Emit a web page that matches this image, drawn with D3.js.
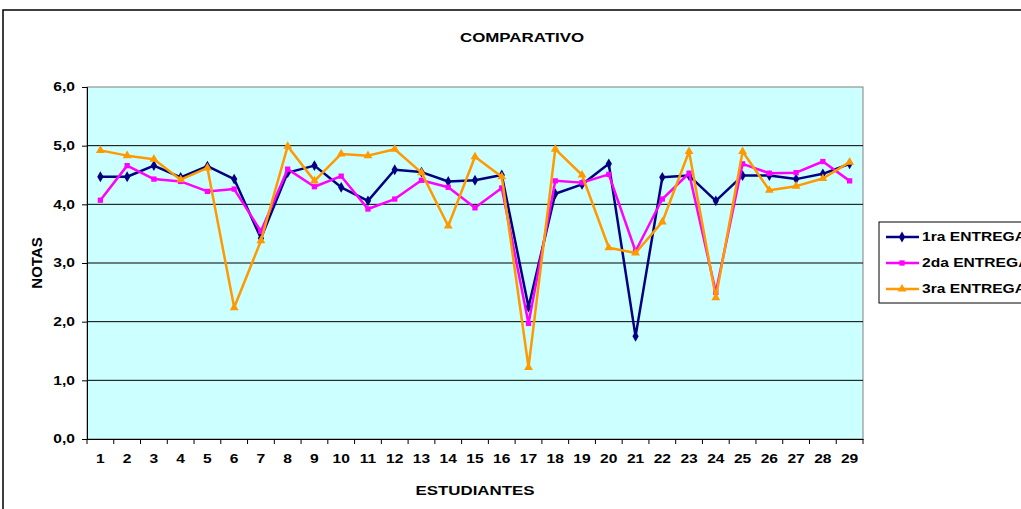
<!DOCTYPE html>
<html>
<head>
<meta charset="utf-8">
<script src="https://cdn.jsdelivr.net/npm/d3@7"></script>
<style>
  body { margin: 0; background: #fff; overflow: hidden; }
  text { font-family: "Liberation Sans", Arial, sans-serif; font-weight: bold; fill: #000; }
</style>
</head>
<body>
<svg id="canvas" width="1021" height="509"></svg>
<script>
/************* Data **************/
var estudiantes = d3.range(1, 30);
var entrega1 = [4.47, 4.47, 4.66, 4.46, 4.65, 4.43, 3.42, 4.54, 4.66, 4.29,
                4.06, 4.59, 4.55, 4.39, 4.41, 4.50, 2.25, 4.18, 4.34, 4.69,
                1.75, 4.46, 4.49, 4.06, 4.49, 4.49, 4.43, 4.52, 4.69];
var entrega2 = [4.07, 4.66, 4.43, 4.39, 4.22, 4.26, 3.54, 4.60, 4.30, 4.48,
                3.92, 4.09, 4.41, 4.29, 3.94, 4.28, 1.97, 4.40, 4.37, 4.51,
                3.20, 4.09, 4.53, 2.50, 4.69, 4.53, 4.54, 4.73, 4.40];
var entrega3 = [4.92, 4.83, 4.77, 4.42, 4.62, 2.24, 3.38, 4.99, 4.40, 4.86,
                4.83, 4.94, 4.54, 3.63, 4.81, 4.47, 1.22, 4.94, 4.50, 3.26,
                3.17, 3.70, 4.90, 2.41, 4.90, 4.24, 4.31, 4.44, 4.72];
var yTicks = [0, 1, 2, 3, 4, 5, 6];

var series = [
  {name: "1ra ENTREGA", values: entrega1, color: "#000080", symbol: d3.symbolDiamond, size: 34},
  {name: "2da ENTREGA", values: entrega2, color: "#FF00FF", symbol: d3.symbolSquare, size: 28},
  {name: "3ra ENTREGA", values: entrega3, color: "#FF9900", symbol: d3.symbolTriangle, size: 34}
];

// the original picture is stretched sideways, so is its text
var stretch = 1.3;

/********** Initialisation *********/
var svg = d3.select("#canvas");
var plot = {left: 87, right: 863, top: 87, bottom: 439};

var x = d3.scaleBand()
    .domain(estudiantes)
    .range([plot.left, plot.right]);

var y = d3.scaleLinear()
    .domain([0, 6])
    .range([plot.bottom, plot.top]);

var fmt = function(d) { return d3.format(".1f")(d).replace(".", ","); };

function label(px, py, str, size, anchor) {
  return svg.append("g")
      .attr("transform", "translate(" + px + "," + py + ") scale(" + stretch + ",1)")
    .append("text")
      .attr("text-anchor", anchor || "middle")
      .style("font-size", size + "px")
      .text(str);
}

// outer chart border (runs off the right and bottom edge)
svg.append("rect")
    .attr("x", 3).attr("y", 10)
    .attr("width", 1100).attr("height", 600)
    .attr("fill", "none").attr("stroke", "#000").attr("stroke-width", 1.5);

// plot background
svg.append("rect")
    .attr("x", plot.left).attr("y", plot.top)
    .attr("width", plot.right - plot.left).attr("height", plot.bottom - plot.top)
    .attr("fill", "#CCFFFF").attr("stroke", "#808080").attr("stroke-width", 1);

// gridlines
svg.append("g")
    .selectAll("line")
    .data(yTicks.filter(function(d) { return d > 0 && d < 6; }))
    .enter()
    .append("line")
    .attr("x1", plot.left).attr("x2", plot.right)
    .attr("y1", function(d) { return y(d); })
    .attr("y2", function(d) { return y(d); })
    .attr("stroke", "#000").attr("stroke-width", 1);

/*********** Axes *************/
var yAxis = svg.append("g")
    .attr("transform", "translate(" + plot.left + ",0)")
    .call(d3.axisLeft(y).tickValues(yTicks).tickFormat(fmt).tickSize(5));
yAxis.select(".domain").attr("stroke", "#000");
yAxis.selectAll("text")
    .attr("x", -12 / stretch)
    .attr("transform", "scale(" + stretch + ",1)")
    .style("font-size", "12px");

var xAxis = svg.append("g")
    .attr("transform", "translate(0," + plot.bottom + ")")
    .call(d3.axisBottom(x).tickSize(0).tickPadding(15));
xAxis.select(".domain").attr("stroke", "#000");
xAxis.selectAll("text")
    .attr("transform", "scale(" + stretch + ",1)")
    .style("font-size", "12px");

// tick marks between categories
svg.append("g")
    .selectAll("line")
    .data(d3.range(0, 30))
    .enter()
    .append("line")
    .attr("x1", function(i) { return plot.left + i * x.step(); })
    .attr("x2", function(i) { return plot.left + i * x.step(); })
    .attr("y1", plot.bottom).attr("y2", plot.bottom + 5)
    .attr("stroke", "#000");

/*********** Titles *************/
label(522, 42, "COMPARATIVO", 13);
label(475, 495, "ESTUDIANTES", 13);

svg.append("text")
    .attr("transform", "translate(42,263) rotate(-90)")
    .attr("text-anchor", "middle")
    .style("font-size", "15px")
    .text("NOTAS");

/*********** Lines and markers *************/
var line = d3.line()
    .x(function(d, i) { return x(estudiantes[i]) + x.bandwidth() / 2; })
    .y(function(d) { return y(d); });

var groups = svg.append("g")
    .selectAll("g")
    .data(series)
    .enter()
    .append("g");

groups.append("path")
    .attr("d", function(s) { return line(s.values); })
    .attr("fill", "none")
    .attr("stroke", function(s) { return s.color; })
    .attr("stroke-width", 2.5)
    .attr("stroke-linejoin", "round");

groups.each(function(s) {
  d3.select(this)
    .selectAll("path.pt")
    .data(s.values)
    .enter()
    .append("path")
    .attr("class", "pt")
    .attr("d", d3.symbol().type(s.symbol).size(s.size))
    .attr("transform", function(d, i) {
      return "translate(" + (x(estudiantes[i]) + x.bandwidth() / 2) + "," + y(d) + ")";
    })
    .attr("fill", s.color);
});

/*********** Legend *************/
var legend = svg.append("g");
legend.append("rect")
    .attr("x", 879).attr("y", 222)
    .attr("width", 200).attr("height", 81)
    .attr("fill", "#fff").attr("stroke", "#000").attr("stroke-width", 1);

var item = legend.selectAll("g.item")
    .data(series)
    .enter()
    .append("g")
    .attr("class", "item")
    .attr("transform", function(s, i) { return "translate(0," + (237 + i * 26) + ")"; });

item.append("line")
    .attr("x1", 886).attr("x2", 919)
    .attr("stroke", function(s) { return s.color; })
    .attr("stroke-width", 2.5);

item.append("path")
    .attr("d", function(s) { return d3.symbol().type(s.symbol).size(s.size)(); })
    .attr("transform", "translate(902,0)")
    .attr("fill", function(s) { return s.color; });

item.append("g")
    .attr("transform", "translate(922,4) scale(" + stretch + ",1)")
  .append("text")
    .style("font-size", "12px")
    .text(function(s) { return s.name; });
</script>
</body>
</html>
